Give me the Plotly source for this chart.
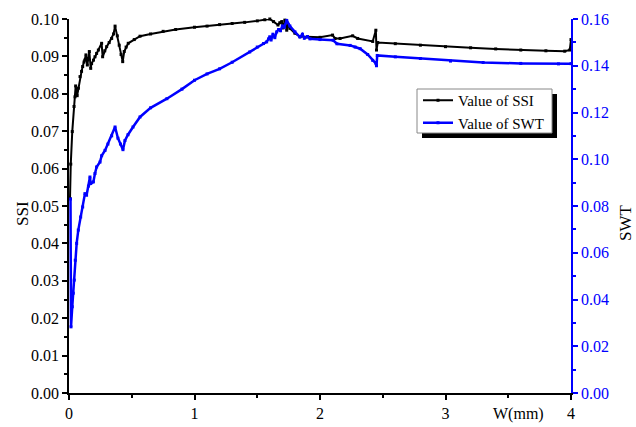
import plotly.graph_objects as go

# ---- data ----
ssi_x = [0.008, 0.014, 0.026, 0.04, 0.048, 0.053, 0.065, 0.075, 0.088, 0.1, 0.109, 0.12, 0.127, 0.135,
         0.146, 0.155, 0.162, 0.173, 0.18, 0.195, 0.207, 0.22, 0.234, 0.26, 0.268, 0.285, 0.3, 0.32,
         0.34, 0.355, 0.367, 0.385, 0.40, 0.415, 0.428, 0.44, 0.455, 0.472, 0.52, 0.566, 0.65, 0.75,
         0.85, 1.0, 1.1, 1.2, 1.3, 1.4, 1.5, 1.56, 1.6, 1.63, 1.665, 1.68, 1.695, 1.705, 1.72, 1.735,
         1.745, 1.76, 1.8, 1.84, 1.9, 2.0, 2.1, 2.12, 2.16, 2.26, 2.3, 2.42, 2.445, 2.45, 2.46, 2.6,
         2.8, 3.0, 3.2, 3.4, 3.6, 3.8, 3.95, 3.99, 4.0]
ssi_y = [0.052, 0.0612, 0.0699, 0.0766, 0.0792, 0.0821, 0.0795, 0.0815, 0.0846, 0.086, 0.0873, 0.0885,
         0.089, 0.0904, 0.0877, 0.0895, 0.0913, 0.0868, 0.0881, 0.089, 0.0899, 0.0908, 0.0917, 0.0935,
         0.0899, 0.0915, 0.0926, 0.0937, 0.0948, 0.096, 0.0981, 0.0955, 0.093, 0.0905, 0.0886, 0.0913,
         0.0925, 0.0935, 0.0945, 0.0954, 0.096, 0.0967, 0.0972, 0.0978, 0.0981, 0.0985, 0.0988, 0.0991,
         0.0995, 0.0998, 0.1, 0.0993, 0.0984, 0.099, 0.0993, 0.0976, 0.0997, 0.097, 0.0985, 0.0975,
         0.0962, 0.0953, 0.0952, 0.0951, 0.0957, 0.0948, 0.0948, 0.0955, 0.0948, 0.094, 0.097, 0.0917,
         0.0937, 0.0934, 0.093, 0.0926, 0.0923, 0.092, 0.0917, 0.0915, 0.0914, 0.0917, 0.0945]

swt_x = [0.012, 0.016, 0.026, 0.034, 0.042, 0.05, 0.061, 0.074, 0.093, 0.109, 0.127, 0.14, 0.155, 0.167,
         0.173, 0.194, 0.207, 0.22, 0.247, 0.26, 0.287, 0.31, 0.34, 0.367, 0.39, 0.41, 0.43, 0.446, 0.47,
         0.51, 0.566, 0.65, 0.78, 0.9, 1.0, 1.1, 1.2, 1.3, 1.44, 1.5, 1.55, 1.575, 1.59, 1.6, 1.61,
         1.625, 1.64, 1.655, 1.67, 1.685, 1.7, 1.715, 1.735, 1.76, 1.8, 1.84, 1.86, 1.875, 1.9, 1.92,
         2.0, 2.105, 2.135, 2.24, 2.28, 2.32, 2.38, 2.42, 2.446, 2.45, 2.456, 2.6, 2.8, 3.04, 3.3, 3.6,
         3.9, 4.0]
swt_y = [0.083, 0.0283, 0.0369, 0.0427, 0.0483, 0.0568, 0.064, 0.0697, 0.0753, 0.0796, 0.0853, 0.0846,
         0.0885, 0.0924, 0.0896, 0.0903, 0.0939, 0.0967, 0.0988, 0.1015, 0.1038, 0.1065, 0.11, 0.1138,
         0.109, 0.1065, 0.1041, 0.108, 0.1105, 0.1138, 0.1181, 0.122, 0.1259, 0.13, 0.1338, 0.1365,
         0.1387, 0.1415, 0.1459, 0.148, 0.1495, 0.1502, 0.1515, 0.1524, 0.151, 0.1535, 0.152, 0.1545,
         0.1555, 0.155, 0.157, 0.1565, 0.1594, 0.157, 0.1545, 0.1523, 0.1535, 0.1518, 0.1525, 0.1515,
         0.1512, 0.1509, 0.1494, 0.1487, 0.148, 0.1473, 0.1448, 0.1423, 0.1409, 0.140, 0.1444, 0.1438,
         0.1431, 0.142, 0.1414, 0.141, 0.1408, 0.1409]

FONT = "Liberation Serif"
BLUE = "#0000ff"

fig = go.Figure()
fig.add_trace(go.Scatter(x=ssi_x, y=ssi_y, mode="lines+markers", name="Value of SSI",
                         line=dict(color="black", width=2),
                         marker=dict(symbol="square", size=3, color="black"),
                         cliponaxis=False))
fig.add_trace(go.Scatter(x=swt_x, y=swt_y, mode="lines+markers", name="Value of SWT", yaxis="y2",
                         line=dict(color=BLUE, width=2.5),
                         marker=dict(symbol="square", size=3, color=BLUE),
                         cliponaxis=False))

def px(xp):
    return (xp - 69) / 502

def py(yp):
    return (393 - yp) / 374

fig.update_layout(
    width=636, height=427,
    margin=dict(l=69, r=65, t=19, b=34, autoexpand=False),
    paper_bgcolor="white", plot_bgcolor="white",
    font=dict(family=FONT, size=16, color="black"),
    showlegend=True,
    legend=dict(x=px(418), y=py(84), xanchor="left", yanchor="top",
                bgcolor="rgba(0,0,0,0)", borderwidth=0,
                font=dict(family=FONT, size=15), itemwidth=30,
                tracegroupgap=0),
    xaxis=dict(range=[0, 4], showline=True, linecolor="black", linewidth=1.5,
               ticks="outside", ticklen=5, tickwidth=1.5, tickcolor="black",
               tickvals=[0, 1, 2, 3, 4], showgrid=False, zeroline=False,
               tickfont=dict(family=FONT, size=16),
               minor=dict(ticks="outside", ticklen=3, dtick=0.5, tick0=0, tickcolor="black", tickwidth=1.5)),
    yaxis=dict(range=[0, 0.1], showline=True, linecolor="black", linewidth=1.5,
               ticks="outside", ticklen=5, tickwidth=1.5, tickcolor="black",
               dtick=0.01, tickformat=".2f", showgrid=False, zeroline=False,
               tickfont=dict(family=FONT, size=16),
               minor=dict(ticks="outside", ticklen=3, dtick=0.005, tick0=0, tickcolor="black", tickwidth=1.5)),
    yaxis2=dict(range=[0, 0.16], overlaying="y", side="right", anchor="x",
                showline=True, linecolor=BLUE, linewidth=1.5,
                ticks="outside", ticklen=5, tickwidth=1.5, tickcolor=BLUE,
                dtick=0.02, tickformat=".2f", showgrid=False, zeroline=False,
                tickfont=dict(color=BLUE, family=FONT, size=16),
                minor=dict(ticks="outside", ticklen=3, dtick=0.01, tick0=0, tickcolor=BLUE, tickwidth=1.5)),
    shapes=[
        dict(type="rect", xref="paper", yref="paper",
             x0=px(422), x1=px(557), y0=py(138), y1=py(94),
             fillcolor="black", line=dict(width=0), layer="above"),
        dict(type="rect", xref="paper", yref="paper",
             x0=px(417), x1=px(552), y0=py(133), y1=py(89),
             fillcolor="white", line=dict(color="#888888", width=1), layer="above"),
    ],
    annotations=[
        dict(text="SSI", xref="paper", yref="paper", x=px(22), y=py(214),
             xanchor="center", yanchor="middle",
             textangle=-90, showarrow=False, font=dict(family=FONT, size=17)),
        dict(text="SWT", xref="paper", yref="paper", x=px(626), y=py(223),
             xanchor="center", yanchor="middle",
             textangle=-90, showarrow=False, font=dict(family=FONT, size=17)),
        dict(text="W(mm)", xref="paper", yref="paper", x=px(518), y=py(414),
             xanchor="center", yanchor="middle",
             showarrow=False, font=dict(family=FONT, size=16)),
    ],
)

fig.write_html("out.html")
